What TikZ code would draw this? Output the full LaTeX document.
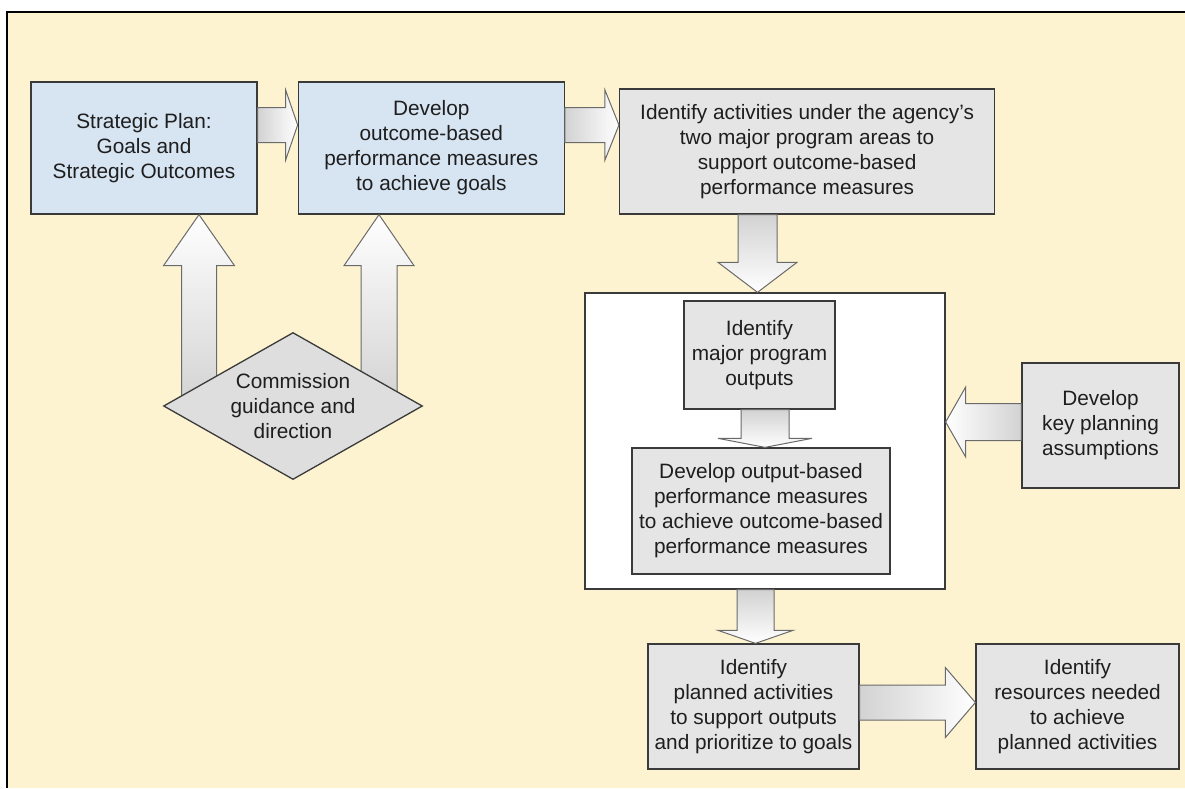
\documentclass[tikz,border=0pt]{standalone}
\usepackage{fontspec}
\setmainfont{Liberation Sans}
\usetikzlibrary{positioning,calc,shapes.geometric}

\definecolor{paper}{HTML}{FEF3D0}
\definecolor{planblue}{HTML}{D7E4F2}
\definecolor{stone}{HTML}{E5E5E5}
\definecolor{marble}{HTML}{DEDEDE}
\definecolor{edge}{HTML}{3A3A3A}
\definecolor{arrowedge}{HTML}{6A6A6A}
\definecolor{ink}{HTML}{1E1E1E}

% hollow block arrow: [shading]{from}{to}{half shaft}{half head}{head length}
\newcommand{\blockarrow}[6][]{%
  \coordinate (headbase) at ($(#3)!#6!(#2)$);
  \draw[hollow, #1] ($(#2)!#4!90:(#3)$) -- ($(headbase)!#4!90:(#3)$)
    -- ($(headbase)!#5!90:(#3)$) -- (#3) -- ($(headbase)!#5!-90:(#3)$)
    -- ($(headbase)!#4!-90:(#3)$) -- ($(#2)!#4!-90:(#3)$) -- cycle;}

\begin{document}
\begin{tikzpicture}[x=1pt, y=-1pt, font=\fontsize{20.8}{25}\selectfont, text=ink,
    basebox/.style={draw=edge, line width=1.3pt, align=center, inner sep=2pt},
    planbox/.style={basebox, fill=planblue},
    greybox/.style={basebox, fill=stone},
    hollow/.style={draw=arrowedge, line width=1pt, line join=miter},
    rightward/.style={left color=gray!35, right color=white},
    leftward/.style={left color=white, right color=gray!35},
    downward/.style={top color=gray!35, bottom color=white},
    upward/.style={top color=white, bottom color=gray!35}]
        \useasboundingbox (0,0) rectangle (1185,788);
        \fill[white] (0,0) rectangle (1185,788);
        \fill[paper] (7,12) rectangle (1185,788);
        \draw[line width=1.5pt] (1185,12) -- (7,12) -- (7,788);

        % top row
        \node[planbox, minimum width=226pt, minimum height=132pt] (plan) at (144,148) {Strategic Plan:\\Goals and\\Strategic Outcomes};
        \node[planbox, minimum width=266pt, minimum height=132pt, right=40pt of plan] (outcome) {Develop\\outcome-based\\performance measures\\to achieve goals};
        \node[greybox, minimum width=375pt, minimum height=125pt, right=54pt of outcome, yshift=-3.5pt] (activities) {Identify activities under the agency's\\two major program areas to\\support outcome-based\\performance measures};

        % program box
        \node[basebox, fill=white, minimum width=360pt, minimum height=296pt] (frame) at (765,441) {};
        \node[greybox, minimum width=151pt, minimum height=108pt] (outputs) at (759.5,355) {Identify\\major program\\outputs};
        \node[greybox, minimum width=258pt, minimum height=126pt] (outmeasures) at (761,511) {Develop output-based\\performance measures\\to achieve outcome-based\\performance measures};
        \node[greybox, minimum width=157pt, minimum height=125pt] (assumptions) at (1100.5,425.5) {Develop\\key planning\\assumptions};

        % bottom row
        \node[greybox, minimum width=211pt, minimum height=125pt] (planned) at (753.5,706.5) {Identify\\planned activities\\to support outputs\\and prioritize to goals};
        \node[greybox, minimum width=203pt, minimum height=125pt] (resources) at (1077.5,706.5) {Identify\\resources needed\\to achieve\\planned activities};

        \blockarrow[rightward]{plan.east |- 0,125}{outcome.west |- 0,125}{17.5pt}{35pt}{12pt}
        \blockarrow[rightward]{outcome.east |- 0,125}{activities.west |- 0,125}{17.5pt}{35pt}{14pt}
        \blockarrow[downward]{757.5,0 |- activities.south}{757.5,0 |- frame.north}{19.5pt}{39.5pt}{30pt}
        \blockarrow[downward]{765,0 |- outputs.south}{765,0 |- outmeasures.north}{24pt}{47pt}{9pt}
        \blockarrow[leftward]{assumptions.west |- 0,422}{frame.east |- 0,422}{18.5pt}{35pt}{20pt}
        \blockarrow[downward]{755.5,0 |- frame.south}{755.5,0 |- planned.north}{18.5pt}{37.5pt}{13pt}
        \blockarrow[rightward]{planned.east |- 0,702.5}{resources.west |- 0,702.5}{17.5pt}{35pt}{30pt}

        % guidance feeds both boxes
        \coordinate (dc) at (293,406);
        \blockarrow[upward]{199,0 |- dc}{199,0 |- plan.south}{17.5pt}{35.5pt}{51pt}
        \blockarrow[upward]{379,0 |- dc}{379,0 |- outcome.south}{18pt}{35pt}{51pt}
        \node[diamond, draw=edge, line width=1.3pt, fill=marble, aspect=1.76, inner sep=0pt, minimum width=259pt, minimum height=147pt, align=center] (guidance) at (dc) {Commission\\guidance and\\direction};
    \end{tikzpicture}
\end{document}
